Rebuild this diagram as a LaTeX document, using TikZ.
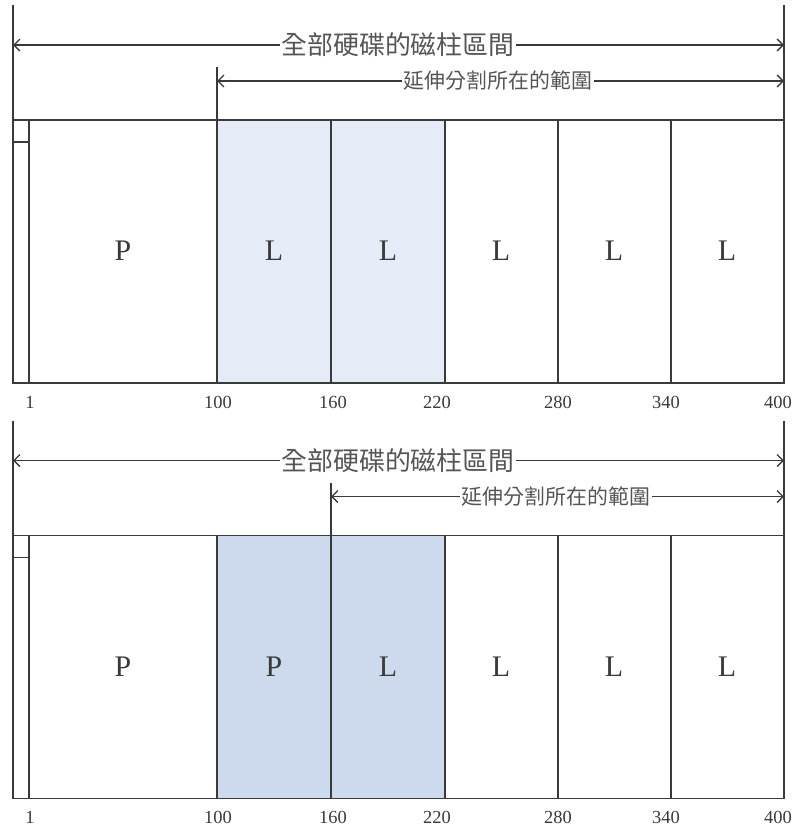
\documentclass[tikz,border=0pt]{standalone}
\usepackage{fontspec}
\setmainfont{Liberation Serif}
\newfontfamily\cjk{Noto Sans CJK TC}
\usetikzlibrary{arrows.meta}
\definecolor{ln}{HTML}{3A3A3A}
\definecolor{lightL}{HTML}{E6ECF7}
\definecolor{darkL}{HTML}{CDD9EC}
\definecolor{txt}{HTML}{555555}
\tikzset{
  frame/.style={draw=ln, line width=1.7bp},
  rng/.style={draw=ln, line width=1.5bp, -{Straight Barb[length=6bp,width=12bp,line width=1.3bp]}},
  bigtxt/.style={font=\cjk\fontsize{26}{26}\selectfont, text=txt, inner sep=1.5bp, anchor=center},
  smalltxt/.style={font=\cjk\fontsize{21}{21}\selectfont, text=txt, inner sep=1.5bp, anchor=center},
  part/.style={font=\fontsize{30}{30}\selectfont, text=ln, anchor=center},
  num/.style={font=\fontsize{18.5}{18.5}\selectfont, text=ln, anchor=center, inner sep=0pt}
}
% #1 prefix, #2 start of extended range, #3 centre of its text, #4 fill colour, #5 letter of part 3
\newcommand\diskpanel[5]{%
  \fill[#4] (217,120) rectangle (445,383);
  \coordinate (#1TL) at (13,5);
  \coordinate (#1BL) at (13,383);
  \coordinate (#1TR) at (784,5);
  \coordinate (#1BR) at (784,383);
  \draw[frame] (#1TL) -- (#1BL);
  \draw[frame] (#1TR) -- (#1BR);
  \draw[frame] (13,120) rectangle (784,383);
  \draw[frame] (29,120) -- (29,383);
  \draw[frame] (13,142) -- (29,142);
  \foreach \x in {217,331,445,558,671} {\draw[frame] (\x,120) -- (\x,383);}
  % extended range vertical
  \coordinate (#1ET) at (#2,67);
  \coordinate (#1EB) at (#2,120);
  \draw[frame] (#1ET) -- (#1EB);
  % arrows
  \node[bigtxt] (#1all) at (398,45) {全部硬碟的磁柱區間};
  \coordinate (#1a1) at (13,45);
  \coordinate (#1a2) at (784,45);
  \draw[rng] (#1all.west) -- (#1a1);
  \draw[rng] (#1all.east) -- (#1a2);
  \node[smalltxt] (#1ext) at (#3,81) {延伸分割所在的範圍};
  \coordinate (#1b1) at (#2,81);
  \coordinate (#1b2) at (784,81);
  \draw[rng] (#1ext.west) -- (#1b1);
  \draw[rng] (#1ext.east) -- (#1b2);
  % letters
  \node[part] (#1p1) at (123,251) {P};
  \node[part] (#1p2) at (274,251) {#5};
  \node[part] (#1p3) at (388,251) {L};
  \node[part] (#1p4) at (501,251) {L};
  \node[part] (#1p5) at (614,251) {L};
  \node[part] (#1p6) at (727,251) {L};
  % numbers
  \node[num] (#1n1) at (30,402) {1};
  \node[num] (#1n2) at (218,402) {100};
  \node[num] (#1n3) at (333,402) {160};
  \node[num] (#1n4) at (437,402) {220};
  \node[num] (#1n5) at (558,402) {280};
  \node[num] (#1n6) at (666,402) {340};
  \node[num] (#1n7) at (778,402) {400};
}
\begin{document}
\begin{tikzpicture}[x=1bp,y=-1bp]
\useasboundingbox[fill=white] (0,0) rectangle (796,829);
\begin{scope}
\diskpanel{t}{217}{498}{lightL}{L}
\end{scope}
\begin{scope}[yshift=-415.5bp]
\diskpanel{b}{331}{556}{darkL}{P}
\end{scope}
\end{tikzpicture}
\end{document}
